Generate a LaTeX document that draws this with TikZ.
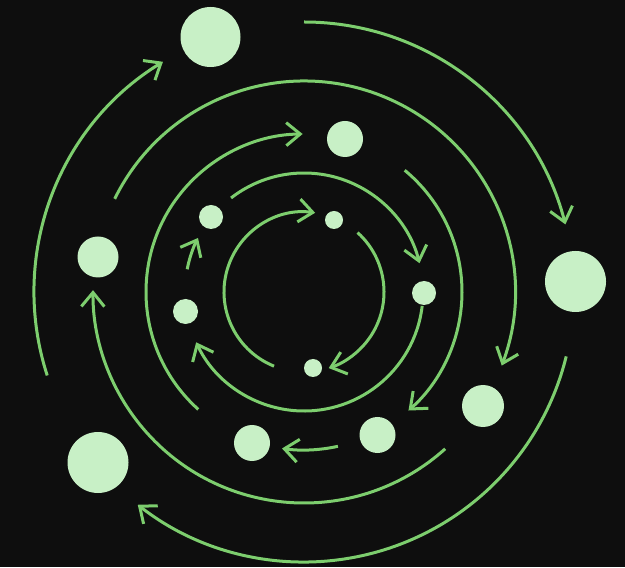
\documentclass[tikz,border=0pt]{standalone}
\usetikzlibrary{arrows.meta,calc}
\definecolor{bg}{RGB}{14,14,14}
\definecolor{orbit}{RGB}{125,206,110}
\definecolor{planet}{RGB}{200,240,198}
\begin{document}
\begin{tikzpicture}[x=0.5pt,y=0.5pt,
  orb/.style={draw=orbit,line width=1.5pt},
  tip/.style={-{Straight Barb[length=7pt,width=11.5pt]}},
  dot/.style={circle,fill=planet,inner sep=0pt,minimum size=#1}]
\fill[bg] (0,0) rectangle (625,567);
\useasboundingbox (0,0) rectangle (625,567);
\coordinate (O) at (304,275);
% planets
\node[dot=30pt] (p1) at (210.5,530) {};
\node[dot=18pt] (p2) at (345,428) {};
\node[dot=20.5pt] (p3) at (98,310) {};
\node[dot=30.5pt] (p4) at (575.5,285.5) {};
\node[dot=12pt] (p5) at (211,350) {};
\node[dot=9pt] (p6) at (334,347) {};
\node[dot=12.5pt] (p7) at (185.5,255.5) {};
\node[dot=12pt] (p8) at (424,274) {};
\node[dot=9pt] (p9) at (313,199) {};
\node[dot=21pt] (p10) at (483,161) {};
\node[dot=18pt] (p11) at (377.5,132) {};
\node[dot=18pt] (p12) at (252,124) {};
\node[dot=30.5pt] (p13) at (98,104.5) {};
% r = 80
\draw[orb,tip] ($(O)+(248:80)$) arc[start angle=248,end angle=82,radius=80];
\draw[orb,tip] ($(O)+(48:80)$) arc[start angle=48,end angle=-72,radius=80];
% r = 119
\draw[orb,tip] ($(O)+(127.8:119)$) arc[start angle=127.8,end angle=14,radius=119];
\draw[orb,tip] ($(O)+(-6.7:119)$) arc[start angle=-6.7,end angle=-155,radius=119];
\draw[orb,tip] ($(O)+(169:119)$) arc[start angle=169,end angle=153,radius=119];
% r = 158
\draw[orb,tip] ($(O)+(228:158)$) arc[start angle=228,end angle=90.5,radius=158];
\draw[orb,tip] ($(O)+(50.4:158)$) arc[start angle=50.4,end angle=-48.6,radius=158];
\draw[orb,tip] ($(O)+(-77.6:158)$) arc[start angle=-77.6,end angle=-98,radius=158];
% r = 211
\draw[orb,tip] ($(O)+(153.8:211)$) arc[start angle=153.8,end angle=-20.4,radius=211];
\draw[orb,tip] ($(O)+(-48:211)$) arc[start angle=-48,end angle=-180.5,radius=211];
% r = 270
\draw[orb,tip] ($(O)+(90:270)$) arc[start angle=90,end angle=14.5,radius=270];
\draw[orb,tip] ($(O)+(-13.8:270)$) arc[start angle=-13.8,end angle=-128,radius=270];
\draw[orb,tip] ($(O)+(198:270)$) arc[start angle=198,end angle=121.5,radius=270];
\end{tikzpicture}
\end{document}
